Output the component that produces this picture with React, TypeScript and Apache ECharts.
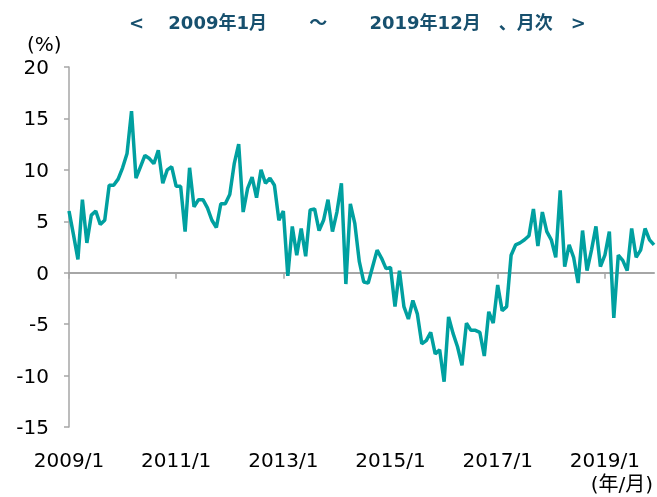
import React, { useEffect, useRef } from "react";
import * as echarts from "echarts";

const years = [2009, 2010, 2011, 2012, 2013, 2014, 2015, 2016, 2017, 2018, 2019];
const months = [1, 2, 3, 4, 5, 6, 7, 8, 9, 10, 11, 12];
const categories = years.flatMap((y) => months.map((m) => `${y}/${m}`));

const values2009 = [6.0, 3.7, 1.3, 7.1, 2.9, 5.6, 6.0, 4.7, 5.1, 8.5, 8.5, 9.1];
const values2010 = [10.2, 11.6, 15.7, 9.2, 10.3, 11.4, 11.1, 10.6, 11.9, 8.7, 10.0, 10.3];
const values2011 = [8.4, 8.4, 4.0, 10.2, 6.4, 7.1, 7.1, 6.3, 5.1, 4.4, 6.7, 6.7];
const values2012 = [7.6, 10.6, 12.5, 5.9, 8.2, 9.3, 7.3, 10.0, 8.7, 9.2, 8.5, 5.1];
const values2013 = [6.0, -0.3, 4.5, 1.7, 4.3, 1.6, 6.1, 6.2, 4.1, 5.1, 7.1, 4.0];
const values2014 = [5.9, 8.7, -1.1, 6.7, 4.8, 1.1, -0.9, -1.0, 0.6, 2.2, 1.4, 0.4];
const values2015 = [0.5, -3.3, 0.2, -3.3, -4.5, -2.7, -4.0, -6.9, -6.6, -5.8, -7.9, -7.5];
const values2016 = [-10.6, -4.3, -5.9, -7.2, -9.0, -4.9, -5.6, -5.6, -5.8, -8.1, -3.8, -4.9];
const values2017 = [-1.2, -3.7, -3.3, 1.7, 2.7, 2.9, 3.2, 3.6, 6.2, 2.6, 5.9, 4.0];
const values2018 = [3.2, 1.5, 8.0, 0.6, 2.7, 1.5, -1.0, 4.1, 0.2, 2.2, 4.5, 0.6];
const values2019 = [1.7, 4.0, -4.4, 1.7, 1.2, 0.2, 4.3, 1.5, 2.2, 4.3, 3.2, 2.7];

const values = [
  ...values2009, ...values2010, ...values2011, ...values2012, ...values2013, ...values2014,
  ...values2015, ...values2016, ...values2017, ...values2018, ...values2019,
];

const yMin = -15;
const yMax = 20;
const yInterval = 5;
const labelEvery = 24;

const titleText = "<　 2009年1月　　 ～　　 2019年12月　、月次　>";
const yUnit = "(%)";
const xUnit = "(年/月)";

const FONT = "'DejaVu Sans', 'Noto Sans CJK JP', sans-serif";

export default function App() {
  const ref = useRef<HTMLDivElement>(null);
  useEffect(() => {
    if (!ref.current) return;
    const chart = echarts.init(ref.current, undefined, { renderer: "svg" });
    const tickFn = (i: number) => i % labelEvery === 0;
    chart.setOption({
      animation: false,
      title: {
        text: titleText,
        left: 124,
        top: 8,
        textStyle: { fontFamily: FONT, fontWeight: "bold", fontSize: 18, color: "#17506e" },
      },
      grid: { left: 69, right: 3, top: 67, bottom: 70 },
      xAxis: [
        {
          type: "category",
          data: categories,
          boundaryGap: false,
          position: "bottom",
          axisLine: { show: false, onZero: false },
          axisTick: { show: false },
          axisLabel: { interval: tickFn, fontSize: 20, color: "#000", margin: 23, fontFamily: FONT },
          splitLine: { show: false },
        },
        {
          type: "category",
          data: categories,
          boundaryGap: false,
          position: "bottom",
          axisLine: { show: true, onZero: true, lineStyle: { color: "#a6a6a6", width: 2 } },
          axisTick: { show: true, interval: tickFn, length: 6, lineStyle: { color: "#a6a6a6", width: 1.5 } },
          axisLabel: { show: false },
          splitLine: { show: false },
        },
      ],
      yAxis: {
        type: "value",
        min: yMin,
        max: yMax,
        interval: yInterval,
        axisLine: { show: true, lineStyle: { color: "#a6a6a6", width: 1.5 } },
        axisTick: { show: true, length: 5, lineStyle: { color: "#a6a6a6", width: 1.5 } },
        axisLabel: { fontSize: 20, color: "#000", margin: 20, fontFamily: FONT },
        splitLine: { show: false },
      },
      series: [
        {
          type: "line",
          data: values,
          xAxisIndex: 0,
          symbol: "none",
          lineStyle: { color: "#00a0a0", width: 3.5 },
          itemStyle: { color: "#00a0a0" },
        },
      ],
      graphic: [
        { type: "text", left: 27, top: 34, style: { text: yUnit, fontSize: 20, fill: "#000", fontFamily: FONT } },
        { type: "text", right: 4, top: 474, style: { text: xUnit, fontSize: 20, fill: "#000", fontFamily: FONT } },
      ],
    });
    return () => chart.dispose();
  }, []);
  return <div ref={ref} style={{ position: "fixed", left: 0, top: 0, width: 657, height: 497 }} />;
}
